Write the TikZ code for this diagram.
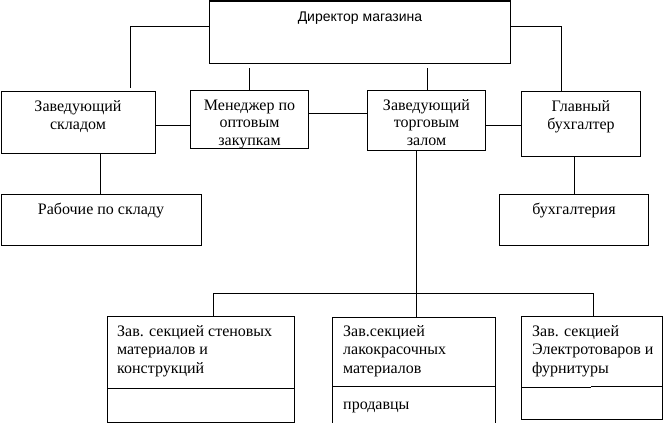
\documentclass[tikz,border=0pt]{standalone}
\usepackage{fontspec}
\setmainfont{Liberation Serif}
\newfontfamily\arialf{Liberation Sans}
\usetikzlibrary{calc}
\tikzset{
  box/.style={draw, line width=1pt, rectangle, inner sep=0pt, anchor=north west},
  line/.style={line width=1pt},
  txt/.style={inner sep=0pt, font=\fontsize{16}{17.8}\selectfont, align=center},
  ltxt/.style={inner sep=0pt, font=\fontsize{16}{18.5}\selectfont, align=left, anchor=base west},
  stxt/.style={inner sep=0pt, font=\arialf\fontsize{14}{17}\selectfont, anchor=base}
}
\begin{document}
\begin{tikzpicture}[x=1pt,y=-1pt]
\useasboundingbox (0,0) rectangle (665,423);
% boxes
\node[box, minimum width=301pt, minimum height=62pt] (dir) at (209,0.5) {};
\node[box, minimum width=154pt, minimum height=62pt] (zs) at (0.5,91) {};
\node[box, minimum width=118pt, minimum height=58pt] (men) at (190,90) {};
\node[box, minimum width=118pt, minimum height=60pt] (zt) at (367,90) {};
\node[box, minimum width=119pt, minimum height=65pt] (gb) at (521,91) {};
\node[box, minimum width=200pt, minimum height=51pt] (rab) at (0.5,194) {};
\node[box, minimum width=149pt, minimum height=51pt] (buh) at (499,194) {};
\node[box, minimum width=187pt, minimum height=106pt] (b1) at (107,316) {};
\node[box, minimum width=163pt, minimum height=120pt] (b2) at (332,317) {};
\node[box, minimum width=141pt, minimum height=103pt] (b3) at (521,316) {};
% dividers
\draw[line] ($(b1.north west)+(0,72)$) -- ($(b1.north east)+(0,72)$);
\draw[line] ($(b2.north west)+(0,69)$) -- ($(b2.north east)+(0,69)$);
\draw[line] ($(b3.north west)+(0,71)$) -- ($(b3.north west)+(70,71)$);
\draw[line] ($(b3.north west)+(70,70)$) -- ($(b3.north east)+(0,70)$);
% texts (base anchor = baseline of the last line)
\node[stxt] (tdir) at ($(dir.north)+(0,20.5)$) {Директор магазина};
\node[txt, anchor=base] (tzs) at ($(zs.north)+(0,38.5)$) {Заведующий\\складом};
\begin{scope}
\clip (men.north west) rectangle (men.south east);
\node[txt, anchor=base] (tmen) at ($(men.north)+(0,55.6)$) {Менеджер по\\оптовым\\закупкам};
\end{scope}
\begin{scope}
\clip (zt.north west) rectangle (zt.south east);
\node[txt, anchor=base] (tzt) at ($(zt.north)+(0,55.6)$) {Заведующий\\торговым\\залом};
\end{scope}
\node[txt, anchor=base] (tgb) at ($(gb.north)+(0,38)$) {Главный\\бухгалтер};
\node[txt, anchor=base] (trab) at ($(rab.north)+(0,20)$) {Рабочие по складу};
\node[txt, anchor=base] (tbuh) at ($(buh.north)+(0,20)$) {бухгалтерия};
\node[ltxt] (tb1) at ($(b1.north west)+(10,57)$) {Зав. секцией стеновых\\материалов и\\конструкций};
\node[ltxt] (tb2) at ($(b2.north west)+(11,56)$) {Зав.секцией\\лакокрасочных\\материалов};
\node[ltxt] (tb2b) at ($(b2.north west)+(11,92)$) {продавцы};
\node[ltxt] (tb3) at ($(b3.north west)+(11,57)$) {Зав. секцией\\Электротоваров и\\фурнитуры};
% connectors
\draw[line] ($(dir.north west)+(0,26)$) -| ($(zs.north west)+(130,-3)$);
\draw[line, shorten >=4pt] (men.north) -- (men.north |- dir.south);
\draw[line, shorten >=4pt] ($(zt.north)+(1,0)$) coordinate (zn) -- (zn |- dir.south);
\draw[line] ($(dir.north east)+(0,26)$) -| ($(gb.north west)+(40,0)$);
\draw[line] ($(zs.north east)+(0,34)$) coordinate (a) -- (a -| men.west);
\draw[line] ($(men.north east)+(0,23)$) coordinate (b) -- (b -| zt.west);
\draw[line] ($(zt.north east)+(0,35)$) coordinate (c) -- (c -| gb.west);
\draw[line] ($(zs.south west)+(100,0)$) coordinate (d) -- (d |- rab.north);
\draw[line] ($(gb.south west)+(53,0)$) coordinate (e) -- (e |- buh.north);
\draw[line] ($(zt.south west)+(49,0)$) coordinate (f) -- (f |- b2.north);
\draw[line] ($(b1.north west)+(106,0)$) |- ($(b3.north west)+(72,-23)$) -- ($(b3.north west)+(72,0)$);
\end{tikzpicture}
\end{document}
